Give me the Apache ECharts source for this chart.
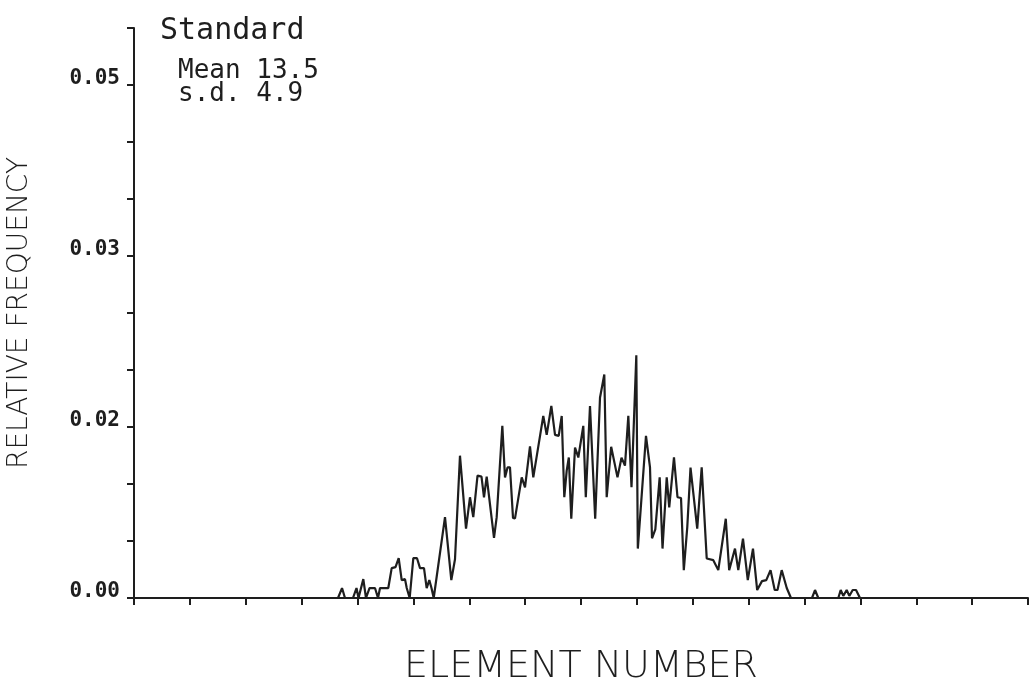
<!DOCTYPE html>
<html>
<head>
<meta charset="utf-8">
<script src="https://cdn.jsdelivr.net/npm/echarts@6/dist/echarts.min.js"></script>
<style>
html,body{margin:0;padding:0;background:#fff;}
#chart{width:1034px;height:690px;}
</style>
</head>
<body>
<div id="chart"></div>
<script>
// Element number positions (in x-axis tick units)
const elementX = [
  3.651, 3.723, 3.776, 3.919, 3.982, 4.018, 4.104, 4.152, 4.215, 4.313,
  4.367, 4.403, 4.551, 4.612, 4.680, 4.737, 4.791, 4.850, 4.881, 4.934,
  4.999, 5.065, 5.119, 5.190, 5.238, 5.285, 5.324, 5.364, 5.566, 5.679,
  5.745, 5.834, 5.942, 6.013, 6.072, 6.148, 6.219, 6.264, 6.312, 6.443,
  6.491, 6.592, 6.640, 6.685, 6.729, 6.783, 6.819, 6.939, 6.998, 7.087,
  7.146, 7.325, 7.386, 7.469, 7.535, 7.601, 7.655, 7.701, 7.744, 7.782,
  7.826, 7.893, 7.952, 8.041, 8.086, 8.161, 8.254, 8.340, 8.417, 8.460,
  8.540, 8.653, 8.725, 8.787, 8.847, 8.904, 8.990, 9.017, 9.163, 9.235,
  9.271, 9.330, 9.408, 9.459, 9.534, 9.579, 9.664, 9.727, 9.790, 9.840,
  9.902, 9.960, 10.080, 10.160, 10.250, 10.368, 10.457, 10.591, 10.652, 10.756,
  10.815, 10.899, 10.985, 11.078, 11.153, 11.239, 11.316, 11.392, 11.467, 11.517,
  11.592, 11.682, 11.758, 12.134, 12.188, 12.247, 12.605, 12.648, 12.694, 12.755,
  12.802, 12.863, 12.922, 12.993
];
// Relative frequency values
const relFreq = [
  0, 0.00096, 0, 0, 0.00096, 0, 0.00182, 0, 0.00096, 0.00096,
  0, 0.00096, 0.00096, 0.00288, 0.00298, 0.00384, 0.00173, 0.00182, 0.00096, 0,
  0.00384, 0.00384, 0.00288, 0.00288, 0.00096, 0.00173, 0.00096, 0, 0.00780, 0.00173,
  0.00374, 0.01373, 0.00669, 0.00972, 0.00780, 0.01181, 0.01171, 0.00972, 0.01171, 0.00581,
  0.00780, 0.01661, 0.01164, 0.01260, 0.01260, 0.00773, 0.00768, 0.01164, 0.01068, 0.01464,
  0.01164, 0.01757, 0.01574, 0.01853, 0.01574, 0.01565, 0.01757, 0.00972, 0.01229, 0.01356,
  0.00765, 0.01452, 0.01356, 0.01661, 0.00972, 0.01853, 0.00765, 0.01932, 0.02157, 0.00972,
  0.01459, 0.01164, 0.01354, 0.01277, 0.01757, 0.01068, 0.02342, 0.00477, 0.01565, 0.01260,
  0.00576, 0.00662, 0.01164, 0.00477, 0.01164, 0.00874, 0.01356, 0.00972, 0.00965, 0.00269,
  0.00684, 0.01258, 0.00669, 0.01260, 0.00381, 0.00365, 0.00269, 0.00765, 0.00269, 0.00477,
  0.00269, 0.00573, 0.00173, 0.00477, 0.00077, 0.00163, 0.00173, 0.00269, 0.00077, 0.00077,
  0.00269, 0.00096, 0, 0, 0.00077, 0, 0, 0.00077, 0.0002, 0.00077,
  0.0002, 0.00077, 0.00077, 0
];
// Y tick labels as printed (one per tick, blank for unlabelled ticks)
const yTickLabels = ['0.00', '', '', '0.02', '', '', '0.03', '', '', '0.05', ''];
const titleText = 'Standard';
const statsText = 'Mean 13.5\ns.d. 4.9';
const xName = 'ELEMENT NUMBER';
const yName = 'RELATIVE FREQUENCY';

const ink = '#1e1e1e';
const chart = echarts.init(document.getElementById('chart'));
chart.setOption({
  animation: false,
  backgroundColor: '#ffffff',
  title: [
    { text: titleText, left: 155, top: 11,
      textStyle: { fontFamily: 'DejaVu Sans Mono', fontSize: 30, fontWeight: 'normal', color: ink } },
    { text: statsText, left: 173, top: 55,
      textStyle: { fontFamily: 'DejaVu Sans Mono', fontSize: 26, fontWeight: 'normal', color: ink, lineHeight: 23 } }
  ],
  grid: { left: 134, right: 6, top: 28, bottom: 92, containLabel: false, outerBoundsMode: 'none' },
  xAxis: {
    type: 'value', min: 0, max: 16, interval: 1,
    name: xName, nameLocation: 'middle', nameGap: 50,
    nameTextStyle: { fontFamily: 'DejaVu Sans', fontWeight: 200, fontSize: 38, color: ink },
    axisLine: { show: true, lineStyle: { color: ink, width: 2 } },
    axisTick: { show: true, length: 7, lineStyle: { color: ink, width: 2 } },
    axisLabel: { show: false },
    splitLine: { show: false }
  },
  yAxis: {
    type: 'value', min: 0, max: 0.055, interval: 0.0055,
    name: yName, nameLocation: 'middle', nameGap: 100, nameRotate: 90,
    nameTextStyle: { fontFamily: 'DejaVu Sans', fontWeight: 200, fontSize: 28, color: ink },
    axisLine: { show: true, lineStyle: { color: ink, width: 2 } },
    axisTick: { show: true, length: 7, lineStyle: { color: ink, width: 2 } },
    axisLabel: {
      margin: 14, fontFamily: 'DejaVu Sans Mono', fontSize: 21, fontWeight: 'bold', color: ink,
      verticalAlign: 'bottom', lineHeight: 12,
      formatter: function (v, i) { return yTickLabels[i] || ''; }
    },
    splitLine: { show: false }
  },
  series: [{
    type: 'line',
    data: elementX.map(function (x, i) { return [x, relFreq[i]]; }),
    symbol: 'none',
    lineStyle: { color: ink, width: 2.2 },
    z: 3
  }]
});
</script>
</body>
</html>
